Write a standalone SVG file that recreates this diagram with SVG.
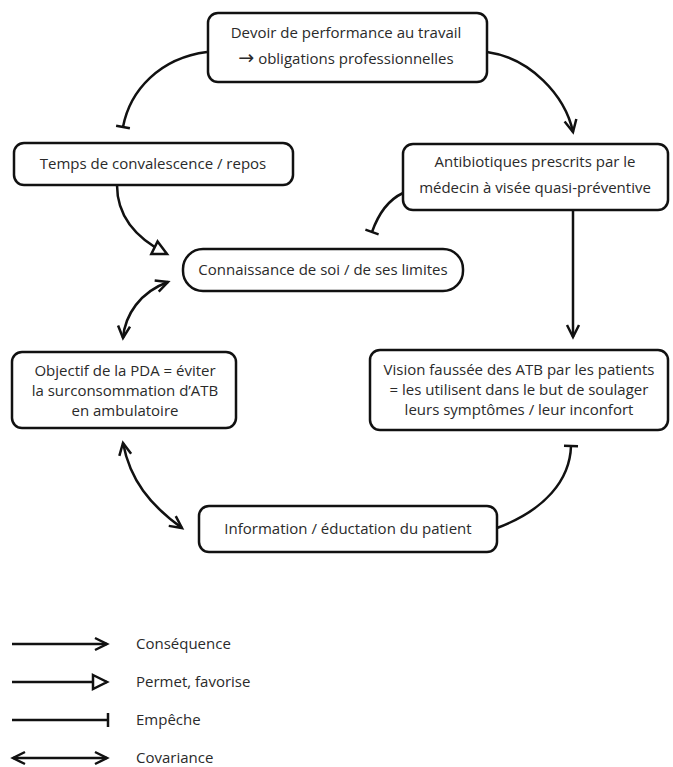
<svg xmlns="http://www.w3.org/2000/svg" width="673" height="767" viewBox="0 0 673 767">
<style>
.box{fill:#fff;stroke:#111;stroke-width:2.5}
.t{font-family:"Open Sans","Noto Sans",sans-serif;font-size:15px;fill:#2a2a2a;text-anchor:middle}
.l{font-family:"Open Sans","Noto Sans",sans-serif;font-size:15px;fill:#2a2a2a}
.c{fill:none;stroke:#111;stroke-width:2.5}
.ar{font-family:"DejaVu Sans",sans-serif;font-size:19px}
</style>
<defs>
<marker id="arr" markerUnits="userSpaceOnUse" markerWidth="20" markerHeight="20" viewBox="-14 -10 20 20" refX="0" refY="0" orient="auto">
<path d="M-12,-6 L0,0 L-12,6" fill="none" stroke="#111" stroke-width="2.5"/>
</marker>
<marker id="arr2" markerUnits="userSpaceOnUse" markerWidth="20" markerHeight="20" viewBox="-14 -10 20 20" refX="0" refY="0" orient="auto-start-reverse">
<path d="M-12,-6 L0,0 L-12,6" fill="none" stroke="#111" stroke-width="2.5"/>
</marker>
<marker id="tri" markerUnits="userSpaceOnUse" markerWidth="24" markerHeight="24" viewBox="-18 -12 24 24" refX="0" refY="0" orient="auto">
<path d="M-14,-7 L0,0 L-14,7 Z" fill="#fff" stroke="#111" stroke-width="2.5"/>
</marker>
<marker id="bar" markerUnits="userSpaceOnUse" markerWidth="20" markerHeight="20" viewBox="-10 -10 20 20" refX="0" refY="0" orient="auto">
<path d="M0,-7 L0,7" fill="none" stroke="#111" stroke-width="2.5"/>
</marker>
</defs>

<g id="n-devoir">
<rect class="box" x="208" y="13" width="279" height="69" rx="10"/>
<text class="t" x="346" y="38">Devoir de performance au travail</text>
<text class="t" x="346" y="64"><tspan class="ar">→</tspan> obligations professionnelles</text>
</g>
<g id="n-temps">
<rect class="box" x="14" y="143" width="279" height="42" rx="10"/>
<text class="t" x="153" y="169">Temps de convalescence / repos</text>
</g>
<g id="n-antibio">
<rect class="box" x="403" y="144" width="265" height="66" rx="10"/>
<text class="t" x="535" y="167">Antibiotiques prescrits par le</text>
<text class="t" x="535" y="193">médecin à visée quasi-préventive</text>
</g>
<g id="n-connaissance">
<rect class="box" x="183" y="249" width="280" height="42" rx="20"/>
<text class="t" x="323" y="275">Connaissance de soi / de ses limites</text>
</g>
<g id="n-objectif">
<rect class="box" x="12" y="352" width="224" height="76" rx="10"/>
<text class="t" x="125" y="376">Objectif de la PDA = éviter</text>
<text class="t" x="125" y="396">la surconsommation d’ATB</text>
<text class="t" x="125" y="416">en ambulatoire</text>
</g>
<g id="n-vision">
<rect class="box" x="370" y="350" width="298" height="80" rx="10"/>
<text class="t" x="519" y="375">Vision faussée des ATB par les patients</text>
<text class="t" x="519" y="395">= les utilisent dans le but de soulager</text>
<text class="t" x="519" y="415">leurs symptômes / leur inconfort</text>
</g>
<g id="n-information">
<rect class="box" x="199" y="506" width="298" height="46" rx="10"/>
<text class="t" x="348" y="534">Information / éductation du patient</text>
</g>

<g id="connectors">
<path class="c" d="M207,52 C160,58 130,90 123,127" marker-end="url(#bar)"/>
<path class="c" d="M487,52 C530,58 565,95 573,132" marker-end="url(#arr)"/>
<path class="c" d="M117,185 C117,215 135,238 167,254" marker-end="url(#tri)"/>
<path class="c" d="M403,193 C388,200 378,215 372,232" marker-end="url(#bar)"/>
<path class="c" d="M573,210 L573,337" marker-end="url(#arr)"/>
<path class="c" d="M168,282 C140,292 125,315 123,338" marker-start="url(#arr2)" marker-end="url(#arr2)"/>
<path class="c" d="M497,528 C545,510 570,480 571,446" marker-end="url(#bar)"/>
<path class="c" d="M123,443 C130,480 150,505 182,528" marker-start="url(#arr2)" marker-end="url(#arr2)"/>
</g>

<g id="legend">
<path class="c" d="M12,644 L107,644" marker-end="url(#arr)"/>
<text class="l" x="136" y="649">Conséquence</text>
<path class="c" d="M12,682 L107,682" marker-end="url(#tri)"/>
<text class="l" x="136" y="687">Permet, favorise</text>
<path class="c" d="M12,720 L108,720" marker-end="url(#bar)"/>
<text class="l" x="136" y="725">Empêche</text>
<path class="c" d="M13,758 L107,758" marker-start="url(#arr2)" marker-end="url(#arr2)"/>
<text class="l" x="136" y="763">Covariance</text>
</g>
</svg>
